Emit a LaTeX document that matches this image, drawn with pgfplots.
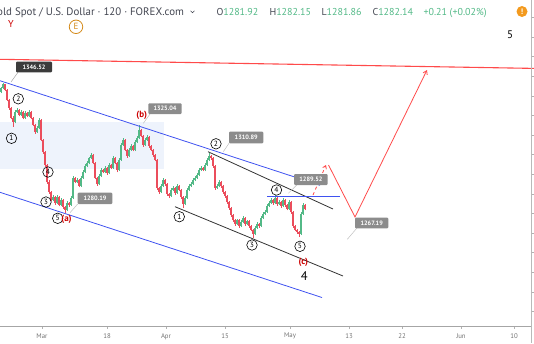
\documentclass[border=0pt]{standalone}
\usepackage{pgfplots}
\pgfplotsset{compat=1.18}
\usepackage{pgfplotstable}
\usepackage{fontspec}
\setmainfont{PT Sans}
\usetikzlibrary{arrows.meta}
\definecolor{up}{HTML}{53B987}
\definecolor{dn}{HTML}{EB4D5C}
\definecolor{chblue}{HTML}{3F52F0}
\definecolor{tvred}{HTML}{FF4A4A}
\definecolor{wred}{HTML}{CC0000}
\definecolor{bgshade}{HTML}{EEF3FC}
\definecolor{txt}{HTML}{434651}
\definecolor{darkbox}{HTML}{3B3B3B}
\definecolor{greybox}{HTML}{8C8C8C}
\definecolor{orng}{HTML}{F39A1E}
\definecolor{eorng}{HTML}{D48A1A}

\pgfplotstableread{
x o h l c
1 1341.9 1344.6 1341.2 1344.0
3 1344.0 1346.5 1343.4 1345.8
5 1345.8 1346.1 1342.4 1343.0
7 1343.0 1343.5 1337.2 1337.9
9 1337.9 1338.6 1333.0 1333.8
11 1333.8 1334.5 1328.0 1328.7
13 1328.7 1329.5 1324.1 1326.6
15 1326.6 1332.5 1325.9 1331.7
17 1331.7 1333.9 1331.0 1332.8
19 1332.8 1333.4 1329.5 1330.2
21 1330.2 1332.6 1329.6 1331.7
23 1331.7 1332.3 1328.0 1328.7
25 1328.7 1332.0 1328.1 1331.2
27 1331.2 1331.9 1329.0 1329.7
29 1329.7 1332.5 1329.1 1331.7
31 1331.7 1332.4 1328.0 1328.7
33 1328.7 1329.3 1324.4 1325.1
35 1325.1 1325.8 1320.6 1321.5
37 1321.5 1324.4 1320.9 1323.6
39 1323.6 1328.5 1323.0 1327.7
41 1327.7 1328.3 1316.8 1317.5
43 1317.5 1318.2 1310.5 1311.3
45 1311.3 1312.0 1303.9 1304.7
47 1304.7 1305.4 1295.2 1296.0
49 1296.0 1296.8 1290.1 1290.9
51 1290.9 1291.6 1286.2 1286.9
53 1286.9 1289.3 1286.1 1288.4
55 1288.4 1289.0 1284.5 1285.3
57 1285.3 1289.2 1284.7 1288.4
59 1288.4 1289.1 1283.6 1284.3
61 1284.3 1287.8 1283.7 1286.9
63 1286.9 1287.5 1282.5 1283.3
65 1283.3 1284.0 1280.2 1281.8
67 1281.8 1286.1 1281.2 1285.3
69 1285.3 1286.0 1283.5 1284.3
71 1284.3 1288.7 1283.7 1287.9
73 1287.9 1299.0 1287.3 1298.1
75 1298.1 1298.8 1295.3 1296.0
77 1296.0 1297.9 1295.3 1297.1
79 1297.1 1297.8 1293.3 1294.0
81 1294.0 1298.9 1293.4 1298.1
83 1298.1 1301.9 1297.5 1301.1
85 1301.1 1305.0 1300.5 1304.2
87 1304.2 1306.5 1303.6 1305.7
89 1305.7 1309.0 1305.1 1308.3
91 1308.3 1310.6 1307.7 1309.8
93 1309.8 1310.4 1305.0 1305.7
95 1305.7 1306.3 1297.4 1298.1
97 1298.1 1298.7 1294.2 1295.0
99 1295.0 1299.9 1294.4 1299.1
101 1299.1 1303.0 1298.5 1302.2
103 1302.2 1302.8 1300.4 1301.1
105 1301.1 1304.0 1300.5 1303.2
107 1303.2 1303.8 1299.8 1300.6
109 1300.6 1305.5 1300.0 1304.7
111 1304.7 1305.3 1302.5 1303.2
113 1303.2 1309.1 1302.6 1308.3
115 1308.3 1308.9 1305.0 1305.7
117 1305.7 1306.3 1301.0 1302.2
119 1302.2 1308.1 1301.6 1307.3
121 1307.3 1315.7 1306.7 1314.9
123 1314.9 1318.3 1314.3 1317.5
125 1317.5 1318.1 1311.6 1312.4
127 1312.4 1313.0 1308.5 1309.3
129 1309.3 1313.2 1308.7 1312.4
131 1312.4 1315.2 1311.8 1314.4
133 1314.4 1315.0 1311.6 1312.4
135 1312.4 1317.2 1311.8 1316.4
137 1316.4 1319.3 1315.8 1318.5
139 1318.5 1325.0 1318.0 1322.6
141 1322.6 1323.3 1318.8 1319.5
143 1319.5 1320.1 1314.1 1314.9
145 1314.9 1318.3 1314.3 1317.5
147 1317.5 1319.8 1316.9 1319.0
149 1319.0 1319.6 1313.6 1314.4
151 1314.4 1315.0 1311.6 1312.4
153 1312.4 1313.0 1309.0 1309.8
155 1309.8 1310.4 1306.5 1307.3
157 1307.3 1307.9 1292.2 1293.0
159 1293.0 1293.6 1290.1 1290.9
161 1290.9 1294.8 1290.3 1294.0
163 1294.0 1297.9 1293.4 1297.1
165 1297.1 1297.7 1294.2 1295.0
167 1295.0 1295.6 1289.1 1289.9
169 1289.9 1290.5 1288.1 1288.9
171 1288.9 1292.8 1288.3 1292.0
173 1292.0 1293.8 1291.4 1293.0
175 1293.0 1293.6 1289.6 1290.4
177 1290.4 1294.8 1289.8 1294.0
179 1294.0 1294.6 1291.2 1292.0
181 1292.0 1292.6 1287.6 1288.4
183 1288.4 1289.0 1282.8 1284.8
185 1284.8 1288.7 1284.2 1287.9
187 1287.9 1292.8 1287.3 1292.0
189 1292.0 1294.8 1291.4 1294.0
191 1294.0 1295.8 1293.4 1295.0
193 1295.0 1297.9 1294.4 1297.1
195 1297.1 1298.9 1296.5 1298.1
197 1298.1 1300.4 1297.5 1299.6
199 1299.6 1303.0 1299.0 1302.2
201 1302.2 1304.0 1301.6 1303.2
203 1303.2 1303.8 1301.4 1302.2
205 1302.2 1305.5 1301.6 1304.7
207 1304.7 1308.1 1304.1 1307.3
209 1307.3 1310.9 1306.7 1309.3
211 1309.3 1309.9 1307.5 1308.3
213 1308.3 1308.9 1303.4 1304.2
215 1304.2 1304.8 1292.2 1293.0
217 1293.0 1294.8 1292.4 1294.0
219 1294.0 1296.8 1293.4 1296.0
221 1296.0 1296.6 1293.2 1294.0
223 1294.0 1294.6 1290.1 1290.9
225 1290.9 1291.5 1288.1 1288.9
227 1288.9 1289.5 1285.0 1285.8
229 1285.8 1286.4 1282.0 1282.8
231 1282.8 1283.4 1278.4 1279.2
233 1279.2 1279.8 1275.8 1276.6
235 1276.6 1277.2 1273.8 1274.6
237 1274.6 1277.4 1274.0 1276.6
239 1276.6 1277.2 1272.8 1273.6
241 1273.6 1276.4 1273.0 1275.6
243 1275.6 1278.5 1275.0 1277.7
245 1277.7 1278.3 1273.8 1274.6
247 1274.6 1276.9 1274.0 1276.1
249 1276.1 1276.7 1272.8 1273.6
251 1273.6 1274.2 1270.8 1271.6
253 1271.6 1272.2 1267.5 1269.5
255 1269.5 1273.4 1268.9 1272.6
257 1272.6 1275.4 1272.0 1274.6
259 1274.6 1275.2 1272.8 1273.6
261 1273.6 1278.5 1273.0 1277.7
263 1277.7 1280.5 1277.1 1279.7
265 1279.7 1281.5 1279.1 1280.7
267 1280.7 1284.6 1280.1 1283.8
269 1283.8 1286.1 1283.2 1285.3
271 1285.3 1287.7 1284.7 1286.9
273 1286.9 1287.5 1284.5 1285.3
275 1285.3 1289.5 1284.7 1287.9
277 1287.9 1288.5 1284.0 1284.8
279 1284.8 1286.6 1284.2 1285.8
281 1285.8 1286.4 1283.0 1283.8
283 1283.8 1287.7 1283.2 1286.9
285 1286.9 1287.5 1283.5 1284.3
287 1284.3 1284.9 1281.5 1282.3
289 1282.3 1286.6 1281.7 1285.8
291 1285.8 1286.4 1279.9 1280.7
293 1280.7 1281.3 1272.8 1273.6
295 1273.6 1274.2 1270.8 1271.6
297 1271.6 1272.2 1269.7 1270.5
299 1270.5 1271.1 1268.0 1269.5
301 1269.5 1280.5 1268.9 1279.7
303 1279.7 1285.1 1279.1 1284.3
305 1284.3 1284.9 1281.5 1282.1
}\candles

\tikzset{
  wave/.style={circle, draw=black, line width=0.6pt, inner sep=0pt, minimum size=10.5pt, font=\fontsize{7.5}{8}\selectfont},
  plab/.style={text=white, font=\fontsize{6.3}{7}\selectfont\bfseries},
}
\pgfplotsset{candle/.style={draw=none, mark=none, forget plot,
    error bars/.cd, y dir=plus, y explicit, error mark=none}}

\begin{document}
\begin{tikzpicture}
% ---------------- price axis: candles ----------------
\begin{axis}[at={(0,0)}, anchor=south west, width=534pt, height=343pt, scale only axis,
  xmin=0, xmax=534, ymin=1213.92, ymax=1388.85, axis lines=none, clip=false]
  \fill[bgshade] (axis cs:0,1302.7) rectangle (axis cs:164,1326.6);
  % up candles: wick, body
  \addplot[restrict expr to domain={\thisrow{c}-\thisrow{o}}{0:1000}, candle,
    error bar style={draw=up, line width=0.45pt}]
    table[x=x, y=l, y error plus expr={\thisrow{h}-\thisrow{l}}] {\candles};
  \addplot[restrict expr to domain={\thisrow{c}-\thisrow{o}}{0:1000}, candle,
    error bar style={draw=up, line width=1.4pt}]
    table[x=x, y expr={min(\thisrow{o},\thisrow{c})}, y error plus expr={max(abs(\thisrow{c}-\thisrow{o}),0.4)}] {\candles};
  % down candles: wick, body
  \addplot[restrict expr to domain={\thisrow{c}-\thisrow{o}}{-1000:-0.0001}, candle,
    error bar style={draw=dn, line width=0.45pt}]
    table[x=x, y=l, y error plus expr={\thisrow{h}-\thisrow{l}}] {\candles};
  \addplot[restrict expr to domain={\thisrow{c}-\thisrow{o}}{-1000:-0.0001}, candle,
    error bar style={draw=dn, line width=1.4pt}]
    table[x=x, y expr={min(\thisrow{o},\thisrow{c})}, y error plus expr={max(abs(\thisrow{c}-\thisrow{o}),0.4)}] {\candles};
\end{axis}

% ---------------- pixel axis: drawings and text ----------------
\begin{axis}[at={(0,0)}, anchor=south west, width=534pt, height=343pt, scale only axis,
  xmin=0, xmax=534, ymin=0, ymax=343, y dir=reverse, axis lines=none, clip=false]
  % red resistance line
  \addplot[tvred, line width=1.1pt] coordinates {(0,59.3) (534,68.4)};
  % blue channel
  \addplot[chblue, line width=0.8pt] coordinates {(0,80.7) (320,185.3)};
  \addplot[chblue, line width=0.8pt] coordinates {(0,192.3) (322,297.5)};
  % black channel
  \addplot[black!80, line width=0.8pt] coordinates {(208,151.7) (333,209)};
  \addplot[black!80, line width=0.8pt] coordinates {(175,206.7) (343,276)};
  % blue horizontal at wave 4
  \addplot[chblue, line width=0.8pt] coordinates {(267,196.7) (340,196.7)};
  % projected path
  \addplot[tvred, line width=0.8pt, dashed, -{Straight Barb[length=3pt,width=4pt]}] coordinates {(313,195) (326,165)};
  \addplot[tvred, line width=0.8pt, -{Straight Barb[length=3.5pt,width=4.5pt]}] coordinates {(328.5,165) (355,217) (427,70)};

  % price callouts
  \draw[gray!70, line width=0.5pt] (axis cs:18,72.3) -- (axis cs:11,82);
  \fill[darkbox, rounded corners=1pt] (axis cs:16,61.7) rectangle (axis cs:52,72.3);
  \node[plab] at (axis cs:34,67) {1346.52};
  \draw[gray!50, line width=0.5pt] (axis cs:150,114) -- (axis cs:143.3,123.3);
  \fill[greybox, rounded corners=1pt] (axis cs:148.3,103.3) rectangle (axis cs:181.7,114);
  \node[plab] at (axis cs:165,108.65) {1325.04};
  \draw[gray!50, line width=0.5pt] (axis cs:77.7,204) -- (axis cs:70,212.7);
  \fill[greybox, rounded corners=1pt] (axis cs:77.7,192.7) rectangle (axis cs:112.3,204);
  \node[plab] at (axis cs:95,198.35) {1280.19};
  \draw[gray!50, line width=0.5pt] (axis cs:229,143.3) -- (axis cs:223.3,151.7);
  \fill[greybox, rounded corners=1pt] (axis cs:229,131.7) rectangle (axis cs:263.3,143.3);
  \node[plab] at (axis cs:246.2,137.5) {1310.89};
  \draw[gray!50, line width=0.5pt] (axis cs:296.7,185) -- (axis cs:288.3,193.3);
  \fill[greybox, rounded corners=1pt] (axis cs:294,174) rectangle (axis cs:327.7,185);
  \node[plab] at (axis cs:310.9,179.5) {1289.52};
  \draw[gray!50, line width=0.5pt] (axis cs:356.7,228.3) -- (axis cs:347.3,239.3);
  \fill[greybox, rounded corners=1pt] (axis cs:355,217.7) rectangle (axis cs:388.3,228.3);
  \node[plab] at (axis cs:371.7,223) {1267.19};

  % wave labels
  \node[wave] at (axis cs:11.5,138.3) {1};
  \node[wave] at (axis cs:18.3,98.8) {2};
  \node[wave] at (axis cs:46,202) {3};
  \node[wave] at (axis cs:48,172) {4};
  \node[wave] at (axis cs:57.7,218.3) {5};
  \node[text=wred, font=\fontsize{9}{10}\selectfont\bfseries] at (axis cs:66.5,219.5) {(a)};
  \node[text=wred, font=\fontsize{9}{10}\selectfont\bfseries] at (axis cs:141.7,115) {(b)};
  \node[wave] at (axis cs:179.3,216.7) {1};
  \node[wave] at (axis cs:216,143.8) {2};
  \node[wave] at (axis cs:252,245) {3};
  \node[wave] at (axis cs:276.5,190) {4};
  \node[wave] at (axis cs:300,246.3) {5};
  \node[text=wred, font=\fontsize{9}{10}\selectfont\bfseries] at (axis cs:303.3,262.7) {(c)};
  \node[text=black, font=\fontsize{12.5}{13}\selectfont] at (axis cs:304.3,276) {4};
  \node[text=black, font=\fontsize{11}{12}\selectfont] at (axis cs:510,34.3) {5};
  \node[text=wred, font=\fontsize{10}{11}\selectfont] at (axis cs:11,23.5) {Y};
  \node[circle, draw=eorng, line width=0.8pt, inner sep=0pt, minimum size=13.5pt, text=eorng, font=\fontsize{9}{10}\selectfont] at (axis cs:76,26.8) {E};

  % header
  \node[anchor=base east, text=txt, font=\fontsize{10.9}{13}\selectfont] at (axis cs:187.5,15) {Gold Spot / U.S. Dollar · 120 · FOREX.com};
  \draw[txt, line width=0.6pt] (axis cs:190.5,10.8) -- (axis cs:192.5,12.8) -- (axis cs:194.5,10.8);
  \node[anchor=base west, text=txt, font=\fontsize{10}{12}\selectfont] at (axis cs:213,15) {O\textcolor{up}{1281.92}};
  \node[anchor=base west, text=txt, font=\fontsize{10}{12}\selectfont] at (axis cs:266,15) {H\textcolor{up}{1282.15}};
  \node[anchor=base west, text=txt, font=\fontsize{10}{12}\selectfont] at (axis cs:318,15) {L\textcolor{up}{1281.86}};
  \node[anchor=base west, text=txt, font=\fontsize{10}{12}\selectfont] at (axis cs:369,15) {C\textcolor{up}{1282.14}};
  \node[anchor=base west, text=up, font=\fontsize{10}{12}\selectfont] at (axis cs:420,15) {+0.21 (+0.02\%)};
  \node[circle, fill=orng, inner sep=0pt, minimum size=11pt, text=white, font=\fontsize{8}{9}\selectfont\bfseries] at (axis cs:522,11.5) {!};

  % time axis lines
  \draw[gray!70, line width=0.6pt] (axis cs:0,326.5) -- (axis cs:531.5,326.5);
  \draw[gray!55, line width=0.6pt] (axis cs:531.5,0) -- (axis cs:531.5,343);
\end{axis}
% axis ticks and date labels (1pt = 1px, y measured from the bottom)
\foreach \yy in {17.4,37.0,56.6,76.2,95.8,115.4,135.0,154.6,174.2,193.8,213.4,233.0,252.6,272.2,291.8,311.4}{
  \draw[gray!60, line width=0.5pt] (531.5pt,343pt-\yy pt) -- (534pt,343pt-\yy pt);
}
\foreach \xx/\lab in {42/Mar,107/18,166/Apr,225/15,290/May,349/13,402/22,461/Jun,514/10}{
  \draw[gray!60, line width=0.5pt] (\xx pt,16.5pt) -- (\xx pt,14.5pt);
  \node[text=gray!90!black, font=\fontsize{6.8}{8}\selectfont] at (\xx pt,6.7pt) {\lab};
}
\pgfresetboundingbox
\useasboundingbox (0,0) rectangle (534pt,343pt);
\end{tikzpicture}
\end{document}
